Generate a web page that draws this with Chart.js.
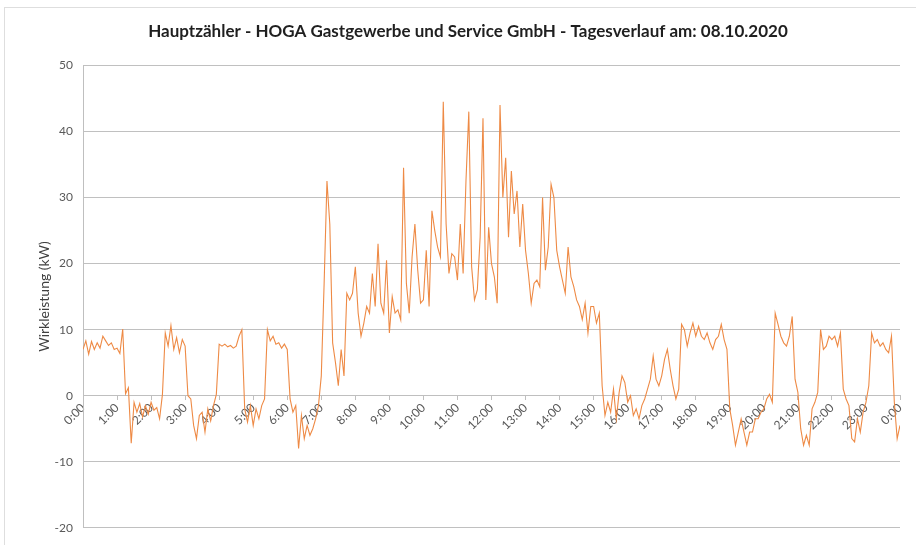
<!DOCTYPE html>
<html><head><meta charset="utf-8">
<script src="https://cdn.jsdelivr.net/npm/chart.js@4"></script>
<style>html,body{margin:0;padding:0;background:#fff}#wrap{width:916px;height:545px;position:relative}</style>
</head><body><div id="wrap"><canvas id="c" width="916" height="545"></canvas></div>
<script>
const chartTitle = "Hauptzähler - HOGA Gastgewerbe und Service GmbH - Tagesverlauf am: 08.10.2020";
const yTitle = "Wirkleistung (kW)";
const hourLabels = ["0:00","1:00","2:00","3:00","4:00","5:00","6:00","7:00","8:00","9:00","10:00","11:00",
  "12:00","13:00","14:00","15:00","16:00","17:00","18:00","19:00","20:00","21:00","22:00","23:00","0:00"];
const stepMinutes = 5;
// kW, 5-minute readings, 0:00 - 5:55
const power0to6 = [
  7.0, 8.3, 6.3, 8.2, 7.0, 8.0, 7.2, 9.0, 8.3, 7.6, 8.0, 7.0,
  7.2, 6.4, 10.1, 0.3, 1.2, -7.2, -1.0, -2.5, -1.2, -3.2, -1.5, -2.8,
  -1.0, -2.2, -1.8, -3.5, 0.2, 9.5, 7.5, 10.6, 7.0, 8.8, 6.5, 8.5,
  7.5, 0.0, -0.5, -4.5, -6.5, -3.0, -2.5, -5.5, -2.0, -3.8, -1.5, 0.2,
  7.8, 7.5, 7.8, 7.4, 7.6, 7.2, 7.5, 9.0, 10.0, -2.0, -4.0, -1.5,
  -4.5, -2.0, -3.5, -1.5, -0.5, 10.0, 8.3, 9.0, 7.8, 8.0, 7.2, 7.8
];
// 6:00 - 11:55
const power6to12 = [
  7.0, -0.5, -2.5, -1.5, -8.0, -3.0, -6.5, -4.5, -6.0, -5.0, -3.5, -1.5,
  3.0, 17.0, 32.5, 26.0, 8.0, 5.0, 1.5, 7.0, 3.0, 15.5, 14.5, 15.5,
  19.5, 12.5, 9.0, 11.0, 13.5, 12.5, 18.5, 13.5, 23.0, 14.0, 12.5, 20.5,
  9.5, 15.0, 12.5, 13.0, 11.5, 34.5, 17.0, 12.5, 21.0, 26.0, 19.0, 14.0,
  14.5, 22.0, 13.5, 28.0, 25.0, 22.5, 21.0, 44.5, 26.0, 18.5, 21.5, 21.0,
  17.5, 26.0, 18.5, 32.5, 43.0, 19.5, 14.5, 16.0, 24.0, 42.0, 14.5, 25.5
];
// 12:00 - 17:55
const power12to18 = [
  20.0, 18.0, 14.0, 44.0, 30.0, 36.0, 24.0, 34.0, 27.5, 31.0, 22.5, 29.0,
  22.0, 18.5, 14.0, 17.0, 17.5, 16.5, 30.0, 19.0, 22.5, 32.0, 30.0, 22.0,
  19.5, 17.5, 15.5, 22.5, 18.0, 16.5, 14.5, 13.5, 11.5, 14.0, 9.5, 13.5,
  13.5, 11.0, 12.5, 1.5, -3.0, -1.0, -2.5, 1.0, -3.5, 0.5, 3.0, 2.0,
  -1.0, 0.0, -3.0, -2.0, -3.5, -1.5, -0.5, 1.0, 2.5, 6.0, 2.5, 1.5,
  3.0, 5.5, 7.0, 4.0, 1.5, -0.5, 1.0, 10.8, 10.0, 7.5, 9.5, 11.0
];
// 18:00 - 24:00
const power18to24 = [
  9.0, 10.5, 9.0, 8.5, 9.5, 8.0, 7.0, 8.5, 9.0, 10.8, 8.5, 7.0,
  -2.0, -4.5, -7.5, -5.5, -3.5, -5.5, -7.5, -5.5, -5.5, -3.5, -3.5, -2.5,
  -2.0, -0.5, 0.2, -1.0, 12.5, 10.8, 9.0, 8.0, 7.5, 9.0, 12.0, 2.5,
  0.5, -5.0, -7.5, -6.0, -7.5, -2.0, -1.0, 0.5, 10.0, 7.0, 7.5, 9.0,
  8.5, 9.0, 7.5, 9.5, 1.0, -0.5, -1.5, -6.5, -7.0, -3.5, -5.5, -2.5,
  -1.0, 1.5, 9.5, 8.0, 8.5, 7.5, 8.0, 7.0, 6.5, 9.0, -1.0, -6.5,
  -4.5
];
const power = [].concat(power0to6, power6to12, power12to18, power18to24);
const points = power.map((v, i) => ({ x: i * stepMinutes, y: v }));

const frame = {
  id: 'frame',
  beforeDraw(chart) {
    const c = chart.ctx;
    c.save();
    c.fillStyle = '#fff';
    c.fillRect(0, 0, chart.width, chart.height);
    c.strokeStyle = '#dedede';
    c.lineWidth = 1;
    c.strokeRect(4.5, 7.5, 940, 560);
    c.restore();
  }
};

const FONT = "Lato, 'Liberation Sans', sans-serif";
new Chart(document.getElementById('c'), {
  type: 'line',
  data: {
    datasets: [{
      data: points,
      borderColor: '#EE8A45',
      borderWidth: 1.1,
      pointRadius: 0,
      tension: 0,
      fill: false
    }]
  },
  options: {
    responsive: false,
    animation: false,
    devicePixelRatio: 1,
    layout: { padding: { left: 36, right: 16, top: 0, bottom: 16 } },
    plugins: {
      legend: { display: false },
      tooltip: { enabled: false },
      title: {
        display: true,
        text: chartTitle,
        color: '#1f1f1f',
        font: { family: FONT, size: 17, weight: 'bold' },
        padding: { top: 21, bottom: 24 }
      }
    },
    scales: {
      x: {
        type: 'linear',
        min: 0, max: 1440,
        position: { y: 0 },
        ticks: {
          stepSize: 60,
          autoSkip: false,
          maxRotation: 45, minRotation: 45,
          color: '#595959',
          font: { family: FONT, size: 12 },
          padding: 1,
          callback: (v) => hourLabels[Math.round(v / 60)]
        },
        grid: { drawOnChartArea: false, drawTicks: true, tickLength: 4, color: '#bfbfbf' },
        border: { color: '#bfbfbf' }
      },
      y: {
        min: -20, max: 50,
        ticks: { stepSize: 10, color: '#595959', font: { family: FONT, size: 12 }, padding: 10 },
        grid: { color: '#c0c0c0', drawTicks: false },
        border: { color: '#bfbfbf' },
        title: { display: true, text: yTitle, color: '#404040', font: { family: FONT, size: 14 }, padding: 0 },
        afterFit: (s) => { s.width = 47; }
      }
    }
  },
  plugins: [frame]
});
</script></body></html>
